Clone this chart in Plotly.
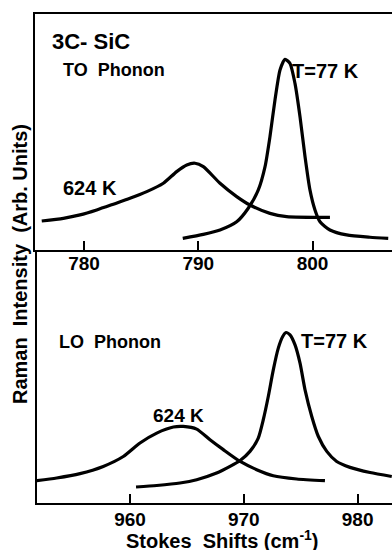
import plotly.graph_objects as go

# ---- data (arbitrary intensity units) ----
to_77_x = [788.64, 790.44, 791.90, 793.36, 794.37, 795.25, 795.84, 796.27, 796.71, 797.15, 797.59,
           798.02, 798.46, 798.90, 799.34, 799.77, 800.21, 800.65, 801.52, 802.98, 805.02, 806.62]
to_77_y = [0.061, 0.082, 0.105, 0.148, 0.219, 0.315, 0.437, 0.594, 0.787, 0.944, 1.000,
           0.979, 0.874, 0.699, 0.489, 0.315, 0.210, 0.148, 0.105, 0.079, 0.067, 0.061]

to_624_x = [776.30, 778.19, 779.65, 781.11, 782.56, 784.02, 785.49, 786.94, 788.11, 788.99, 789.71,
            790.44, 791.90, 793.36, 794.52, 796.27, 797.73, 801.52]
to_624_y = [0.152, 0.166, 0.184, 0.210, 0.240, 0.271, 0.306, 0.350, 0.411, 0.446, 0.455,
            0.437, 0.350, 0.280, 0.236, 0.192, 0.175, 0.171]

lo_77_x = [960.53, 962.35, 964.39, 965.86, 967.61, 968.79, 969.68, 970.54, 971.27, 971.71, 972.15,
           972.59, 973.03, 973.42, 973.71, 974.06, 974.50, 974.94, 975.38, 975.97, 976.55, 977.29,
           978.16, 979.33, 981.09, 983.00]
lo_77_y = [0.084, 0.092, 0.105, 0.122, 0.157, 0.192, 0.223, 0.271, 0.341, 0.437, 0.559,
           0.699, 0.813, 0.874, 0.895, 0.883, 0.830, 0.734, 0.594, 0.454, 0.349, 0.271,
           0.218, 0.187, 0.160, 0.139]

lo_624_x = [951.80, 953.56, 955.61, 957.65, 959.41, 960.88, 962.35, 963.81, 964.68, 965.86, 967.03,
            968.20, 969.68, 971.13, 972.59, 974.65, 977.13]
lo_624_y = [0.117, 0.131, 0.154, 0.192, 0.244, 0.315, 0.367, 0.399, 0.402, 0.388, 0.332,
            0.280, 0.218, 0.175, 0.143, 0.126, 0.117]

to_ticks = [780, 790, 800]
lo_ticks = [960, 970, 980]

W, H = 392, 550
L, R, T, B = 35, 0, 14, 47
PW, PH = W - L - R, H - T - B
FONT = "Liberation Sans, Arial, DejaVu Sans, sans-serif"


def px(x):
    return (x - L) / PW


def py(y):
    return (H - B - y) / PH


line = dict(color="black", width=3.2)
fig = go.Figure()
for xs, ys, xa, ya in [(to_77_x, to_77_y, "x", "y"), (to_624_x, to_624_y, "x", "y"),
                       (lo_77_x, lo_77_y, "x2", "y2"), (lo_624_x, lo_624_y, "x2", "y2")]:
    fig.add_trace(go.Scatter(x=xs, y=ys, mode="lines",
                             line=dict(line, shape="spline", smoothing=0.6),
                             xaxis=xa, yaxis=ya, hoverinfo="skip"))

tickfont = dict(family=FONT, size=19, color="black", weight="bold")
axis_common = dict(showgrid=False, zeroline=False, showline=True, linecolor="black", linewidth=2,
                   ticks="inside", ticklen=9, tickwidth=1.6, tickcolor="black", tickfont=tickfont)

top_bottom_px = 250
fig.update_layout(
    width=W, height=H, margin=dict(l=L, r=R, t=T, b=B),
    paper_bgcolor="white", plot_bgcolor="white", showlegend=False,
    xaxis=dict(axis_common, domain=[0, 1], range=[775.71, 806.95], tickvals=to_ticks,
               anchor="y", mirror=True, ticklabelstandoff=-5),
    yaxis=dict(domain=[py(top_bottom_px), 1], range=[0, 1.2375], showgrid=False, zeroline=False,
               showline=True, linecolor="black", linewidth=2, showticklabels=False, ticks="",
               anchor="x"),
    xaxis2=dict(axis_common, domain=[px(37), 1], range=[951.83, 983.02], tickvals=lo_ticks,
                anchor="y2", ticklabelstandoff=-2),
    yaxis2=dict(domain=[0, py(top_bottom_px)], range=[0, 1.328], showgrid=False, zeroline=False,
                showline=True, linecolor="black", linewidth=2, showticklabels=False, ticks="",
                anchor="x2"),
)


def ann(text, x, y, size, xanchor="left", angle=0):
    fig.add_annotation(text=text, x=px(x), y=py(y), xref="paper", yref="paper",
                       xanchor=xanchor, yanchor="middle", showarrow=False, textangle=angle,
                       font=dict(family=FONT, size=size, color="black", weight="bold"))


ann("3C- SiC", 50, 42, 22)
ann("TO\u00a0 Phonon", 61, 70, 18)
ann("T=77 K", 290, 71, 20)
ann("624 K", 61, 188, 20)
ann("LO\u00a0 Phonon", 57, 342, 18)
ann("T=77 K", 299, 341, 20)
ann("624 K", 151, 415, 19)
ann("Stokes\u00a0 Shifts (cm<sup>-1</sup>)", 222, 539, 20, xanchor="center")
ann("Raman\u00a0 Intensity\u00a0 (Arb. Units)", 20, 264, 20, xanchor="center", angle=-90)

fig.write_html("out.html", config={"displayModeBar": False},
               post_script="document.body.style.margin='0';document.body.style.overflow='hidden';")
